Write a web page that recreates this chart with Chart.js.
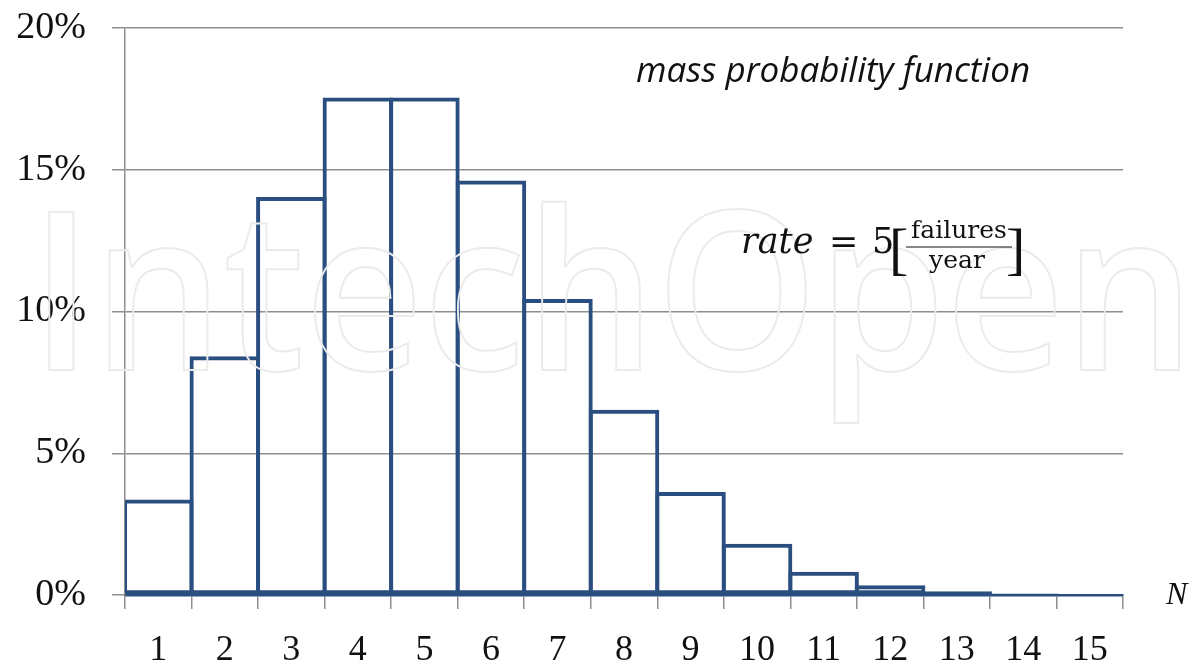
<!DOCTYPE html>
<html>
<head>
<meta charset="utf-8">
<script src="https://cdn.jsdelivr.net/npm/chart.js@4.4.0/dist/chart.umd.min.js"></script>
<style>
  html, body { margin: 0; padding: 0; background: #fff; }
  #wrap { width: 1201px; height: 665px; }
</style>
</head>
<body>
<div id="wrap"><canvas id="pmfChart" width="1201" height="665"></canvas></div>
<script>
  // values (percent)
  const categories = ['1', '2', '3', '4', '5', '6', '7', '8', '9', '10', '11', '12', '13', '14', '15'];
  const probValues = [3.37, 8.42, 14.04, 17.55, 17.55, 14.62, 10.44, 6.53, 3.63, 1.81, 0.82, 0.34, 0.13, 0.05, 0.02];
  const yTicks = [0, 5, 10, 15, 20];

  const barBlue = '#2B4E80';
  const gridGray = '#8E8E8E';
  const serif = '"Liberation Serif", "DejaVu Serif", serif';
  const mathSerif = '"DejaVu Serif", serif';

  // watermark + annotations drawn on top
  const annotations = {
    id: 'annotations',
    afterDraw(chart) {
      const c = chart.ctx;
      c.save();

      // faint outlined watermark
      c.font = '600 222px "Open Sans", sans-serif';
      c.textBaseline = 'alphabetic';
      c.textAlign = 'left';
      c.strokeStyle = '#ebebeb';
      c.lineWidth = 2;
      c.strokeText('IntechOpen', 30, 370, 1165);

      c.fillStyle = '#111';
      c.font = 'italic 35px "Open Sans", sans-serif';
      c.textAlign = 'center';
      c.textBaseline = 'middle';
      c.fillText('mass probability function', 833, 72);

      // rate = 5 [failures / year]
      c.textAlign = 'left';
      c.textBaseline = 'alphabetic';
      c.font = 'italic 35px ' + mathSerif;
      c.fillText('rate', 741, 253);
      c.font = '35px ' + mathSerif;
      c.fillText('=', 829, 253);
      c.fillText('5', 872, 253);
      c.font = '300 58px ' + serif;
      c.fillText('[', 889, 268);
      c.fillText(']', 1006, 268);
      c.font = '25px ' + mathSerif;
      c.textAlign = 'center';
      c.fillText('failures', 959, 238);
      c.fillText('year', 957, 268);
      c.strokeStyle = '#111';
      c.lineWidth = 1.2;
      c.beginPath();
      c.moveTo(906, 247);
      c.lineTo(1012, 247);
      c.stroke();

      // axis name
      c.font = 'italic 32px ' + serif;
      c.textAlign = 'left';
      c.textBaseline = 'middle';
      c.fillText('N', 1166, 596);
      c.restore();
    }
  };

  // bars a border-width wider than their slot so neighbouring outlines coincide
  const borderW = 4;
  const slotW = 998 / categories.length;

  const ctx = document.getElementById('pmfChart').getContext('2d');
  new Chart(ctx, {
    type: 'bar',
    data: {
      labels: categories,
      datasets: [{
        data: probValues,
        backgroundColor: 'rgba(255,255,255,0)',
        borderColor: barBlue,
        borderWidth: borderW,
        borderSkipped: false,
        inflateAmount: 0,
        barPercentage: (slotW + borderW) / slotW,
        categoryPercentage: 1
      }]
    },
    options: {
      responsive: false,
      animation: false,
      layout: { padding: { left: 0, right: 78, top: 28, bottom: 0 } },
      plugins: {
        legend: { display: false },
        tooltip: { enabled: false }
      },
      scales: {
        x: {
          grid: {
            offset: true,
            drawOnChartArea: false,
            drawTicks: true,
            tickLength: 14,
            color: gridGray,
            lineWidth: 1.5
          },
          border: { display: true, color: barBlue, width: 2.5 },
          ticks: {
            color: '#111',
            font: { family: serif, size: 36 },
            padding: 20,
            maxRotation: 0
          },
          afterFit(scale) { scale.height = 70; scale.paddingTop = 0; }
        },
        y: {
          min: 0,
          max: 20,
          afterBuildTicks(scale) { scale.ticks = yTicks.map(v => ({ value: v })); },
          grid: {
            color: gridGray,
            lineWidth: 1.5,
            drawTicks: true,
            tickLength: 13
          },
          border: { display: true, color: gridGray, width: 1.5 },
          ticks: {
            color: '#111',
            font: { family: serif, size: 38 },
            padding: 26,
            callback: v => v + '%'
          },
          afterFit(scale) { scale.width = 125; scale.paddingTop = 0; scale.paddingBottom = 0; }
        }
      }
    },
    plugins: [annotations]
  });
</script>
</body>
</html>
